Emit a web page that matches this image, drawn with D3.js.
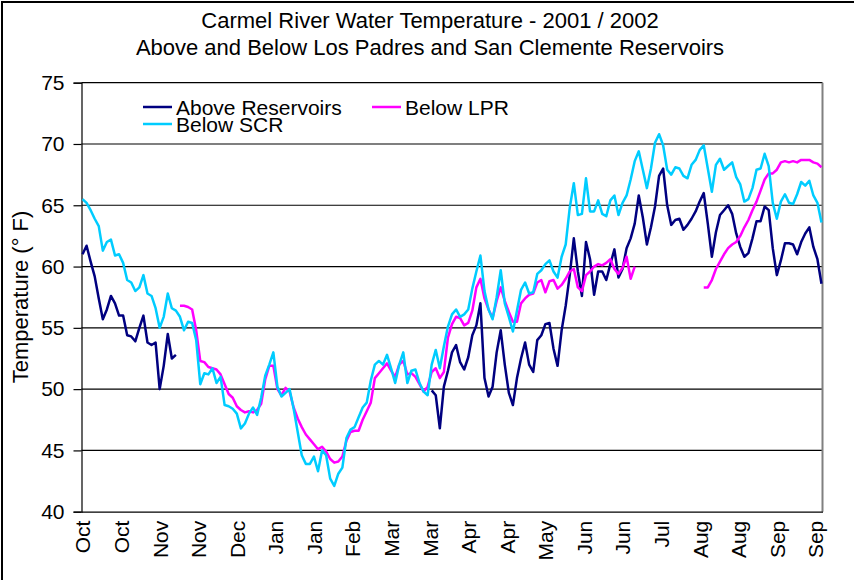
<!DOCTYPE html>
<html>
<head>
<meta charset="utf-8">
<script src="https://d3js.org/d3.v7.min.js"></script>
<style>
  body { margin: 0; background: #fff; }
  text { font-family: "Liberation Sans", Arial, sans-serif; fill: #000; }
</style>
</head>
<body>
<div id="chart"></div>
<script>
(function(){
    // data: daily record Oct 1 2001 - Sep 30 2002, values read every 2nd day
    var START_DATE = new Date(2001, 9, 1),
        END_DATE   = new Date(2002, 9, 1),
        STEP       = 2;   // days between stored readings

    var seriesNames = ['Above Reservoirs', 'Below LPR', 'Below SCR'];

    // x axis labels, one every TICK_EVERY days
    var tickLabels = ['Oct','Oct','Nov','Nov','Dec','Jan','Jan','Feb','Mar','Mar',
                      'Apr','Apr','May','Jun','Jun','Jul','Aug','Aug','Sep','Sep'],
        TICK_EVERY = 19;

    var yTicks = [40, 45, 50, 55, 60, 65, 70, 75];

    var aboveReservoirs = [
        61.0, 61.7, 60.4, 59.2, 57.4, 55.7, 56.5, 57.6, 57.0, 56.0,
        56.0, 54.4, 54.3, 53.9, 55.0, 56.0, 53.8, 53.6, 53.8, 50.0,
        51.9, 54.5, 52.5, 52.8,
        null, null, null, null, null, null, null, null, null, null,
        null, null, null, null, null, null, null, null, null, null,
        null, null, null, null, null, null, null, null, null, null,
        null, null, null, null, null, null, null, null, null, null,
        null, null, null, null, null, null, null, null, null, null,
        null, null, null, null, null, null, null, null, null, null,
        null, null,
        49.9, 49.5, 46.8, 50.2,
        51.5, 53.0, 53.6, 52.2, 51.6, 52.6, 54.4, 55.2, 57.0, 50.9,
        49.4, 50.2, 53.0, 54.8, 52.0, 49.7, 48.7, 50.9, 52.5, 53.8,
        52.0, 51.4, 54.0, 54.4, 55.3, 55.4, 53.3, 51.9, 54.8, 56.8,
        59.3, 62.3, 59.6, 57.6, 62.0, 60.6, 57.7, 59.6, 59.6, 58.9,
        60.2, 61.4, 59.1, 59.8, 61.5, 62.3, 63.5, 65.8, 64.0, 61.8,
        63.2, 64.9, 67.4, 68.0, 65.0, 63.4, 63.8, 63.9, 63.0, 63.4,
        63.9, 64.5, 65.3, 66.0, 63.5, 60.8, 62.8, 64.2, 64.6, 65.0,
        64.3, 62.7, 61.6, 60.8, 61.1, 62.3, 63.7, 63.7, 64.9, 64.6,
        61.5, 59.3, 60.5, 61.9, 61.9, 61.8, 61.0, 62.0, 62.7, 63.2,
        61.6, 60.6, 58.6
    ];

    var belowLPR = [
        null, null, null, null, null, null, null, null, null, null,
        null, null, null, null, null, null, null, null, null, null,
        null, null, null, null,
        56.8, 56.8, 56.7, 56.5, 54.8, 52.3,
        52.2, 51.8, 51.7, 51.6, 51.2, 50.4, 49.6, 49.3, 48.6, 48.3,
        48.1, 48.2, 48.1, 48.3, 48.8, 50.8, 51.9, 51.9, 50.0, 49.5,
        50.1, 49.8, 48.5, 47.6, 46.9, 46.3, 45.9, 45.5, 45.1, 45.3,
        44.9, 44.3, 44.0, 44.1, 44.5, 45.8, 46.5, 46.6, 46.6, 47.5,
        48.2, 48.9, 50.9, 51.3, 51.7, 52.1, 51.5, 51.0, 52.0, 52.3,
        51.2, 51.3, 51.0, 50.4, 49.8, 50.2, 51.4, 51.7, 50.9, 51.4,
        54.2, 55.3, 55.9, 55.8, 55.2, 55.4, 56.4, 58.3, 59.0, 57.4,
        56.5, 55.8, 57.2, 58.3, 57.2, 56.3, 55.5, 55.5, 57.0, 57.4,
        57.7, 57.8, 58.7, 58.9, 57.9, 58.8, 58.9, 58.2, 58.5, 59.0,
        59.6, 59.8, 58.3, 58.0, 59.3, 59.6, 60.0, 60.2, 60.1, 60.3,
        60.6, 59.8, 59.4, 59.9, 60.8, 59.0, 60.0,
        null, null, null, null, null, null, null, null, null, null,
        null, null, null, null, null, null,
        58.3, 58.3, 58.9, 59.8, 60.4, 61.0, 61.5,
        61.8, 62.0, 62.5, 63.2, 63.8, 64.6, 65.3, 66.2, 67.1, 67.6,
        67.6, 67.9, 68.5, 68.6, 68.5, 68.6, 68.5, 68.7, 68.7, 68.7,
        68.5, 68.4, 68.1
    ];

    var belowSCR = [
        65.5, 65.2, 64.6, 63.9, 63.3, 61.3, 62.0, 62.2, 60.9, 61.0,
        60.3, 58.9, 58.7, 58.0, 58.3, 59.3, 57.8, 57.6, 56.6, 55.0,
        55.9, 57.8, 56.6, 56.4, 55.9, 54.8, 55.5, 55.4, 54.0, 50.4,
        51.3, 51.2, 51.7, 50.5, 51.0, 48.7, 48.6, 48.4, 48.0, 46.8,
        47.2, 48.0, 48.5, 47.9, 49.3, 51.1, 52.0, 53.0, 50.2, 49.4,
        49.7, 50.0, 48.4, 46.5, 44.6, 43.9, 43.9, 44.5, 43.3, 45.0,
        44.6, 42.7, 42.1, 43.1, 43.6, 46.0, 46.7, 46.9, 47.7, 48.5,
        48.9, 50.7, 52.0, 52.3, 52.0, 52.8, 51.7, 50.5, 52.0, 53.0,
        50.5, 51.5, 51.6, 50.5, 49.8, 49.5, 52.0, 53.2, 51.7, 53.5,
        55.1, 56.1, 56.5, 55.9, 56.1, 56.5, 58.2, 59.6, 60.9, 58.0,
        56.5, 55.7, 57.5, 59.7, 57.0, 55.9, 54.7, 56.4, 58.1, 58.7,
        57.8, 57.9, 59.4, 59.7, 60.2, 60.5, 59.6, 59.1, 60.8, 61.8,
        64.8, 66.8, 64.2, 64.3, 67.2, 64.5, 64.5, 65.4, 64.3, 64.1,
        65.4, 65.8, 64.2, 65.2, 65.8, 67.1, 68.6, 69.4, 67.9, 66.4,
        68.0, 70.1, 70.8, 69.9, 67.9, 67.5, 68.1, 68.0, 67.4, 67.2,
        68.3, 68.7, 69.5, 69.9, 68.0, 66.1, 68.3, 68.8, 67.9, 68.2,
        68.5, 67.3, 66.7, 65.3, 65.5, 66.4, 67.9, 68.0, 69.2, 68.2,
        65.2, 63.9, 65.3, 65.9, 65.2, 65.1, 65.9, 66.9, 66.6, 67.0,
        65.8, 65.2, 63.6
    ];

    var seriesData   = [aboveReservoirs, belowLPR, belowSCR],
        seriesColors = ['#000080', '#ff00ff', '#00ccff'];

    // layout
    var WIDTH         = 854,
        HEIGHT        = 580,
        PLOT_LEFT     = 81.5,
        PLOT_RIGHT    = 822.5,
        PLOT_TOP      = 82.7,
        PLOT_BOTTOM   = 511.7,
        FONT_SIZE     = 21,
        LINE_WIDTH    = 2.5;

    var days = d3.timeDay.range(START_DATE, END_DATE);   // categories

    var svg = d3.select('#chart').append('svg')
        .attr('width', WIDTH)
        .attr('height', HEIGHT);

    // outer chart border
    svg.append('rect')
        .attr('x', 2).attr('y', 2)
        .attr('width', WIDTH + 10).attr('height', HEIGHT + 10)
        .attr('fill', 'none')
        .attr('stroke', '#000')
        .attr('stroke-width', 2);

    var x = d3.scalePoint()
        .domain(d3.range(days.length))
        .range([PLOT_LEFT, PLOT_RIGHT])
        .padding(0.5);

    var y = d3.scaleLinear()
        .domain([40, 75])
        .range([PLOT_BOTTOM, PLOT_TOP]);

    // gridlines
    svg.append('g')
        .selectAll('line')
        .data(yTicks.filter(function(t){ return t > 40; }))
        .enter().append('line')
        .attr('x1', PLOT_LEFT).attr('x2', PLOT_RIGHT)
        .attr('y1', function(d){ return y(d); })
        .attr('y2', function(d){ return y(d); })
        .attr('stroke', '#000')
        .attr('stroke-width', 1.2);

    // right border of plot area
    svg.append('line')
        .attr('x1', PLOT_RIGHT).attr('x2', PLOT_RIGHT)
        .attr('y1', PLOT_TOP).attr('y2', PLOT_BOTTOM)
        .attr('stroke', '#808080')
        .attr('stroke-width', 2);

    // y axis
    var yAxis = d3.axisLeft(y)
        .tickValues(yTicks)
        .tickSize(8)
        .tickPadding(9)
        .tickFormat(d3.format('d'));

    var yg = svg.append('g')
        .attr('transform', 'translate(' + PLOT_LEFT + ',0)')
        .call(yAxis);
    yg.select('.domain').attr('stroke', '#000').attr('stroke-width', 1.2);
    yg.selectAll('.tick line').attr('stroke', '#000').attr('stroke-width', 1.2);
    yg.selectAll('.tick text')
        .style('font-size', FONT_SIZE + 'px')
        .style('font-family', '"Liberation Sans", Arial, sans-serif')
        .attr('fill', '#000');

    // x axis
    var xAxis = d3.axisBottom(x)
        .tickValues(d3.range(0, days.length, TICK_EVERY))
        .tickSize(0)
        .tickFormat(function(d, i){ return tickLabels[i]; });

    var xg = svg.append('g')
        .attr('transform', 'translate(0,' + PLOT_BOTTOM + ')')
        .call(xAxis);
    xg.select('.domain').attr('stroke', '#000').attr('stroke-width', 1.2);
    xg.selectAll('.tick text')
        .style('font-size', FONT_SIZE + 'px')
        .style('font-family', '"Liberation Sans", Arial, sans-serif')
        .attr('fill', '#000')
        .attr('text-anchor', 'end')
        .attr('transform', 'rotate(-90)')
        .attr('x', -9)
        .attr('y', 0)
        .attr('dy', '0.35em');

    // series lines
    var line = d3.line()
        .defined(function(v){ return v !== null; })
        .x(function(v, i){ return x(i * STEP); })
        .y(function(v){ return y(v); });

    svg.append('g')
        .selectAll('path')
        .data(seriesData)
        .enter().append('path')
        .attr('d', function(d){ return line(d); })
        .attr('fill', 'none')
        .attr('stroke', function(d, i){ return seriesColors[i]; })
        .attr('stroke-width', LINE_WIDTH)
        .attr('stroke-linejoin', 'round');

    // title
    svg.append('text')
        .attr('x', 430).attr('y', 28)
        .attr('text-anchor', 'middle')
        .style('font-size', '22px')
        .text('Carmel River Water Temperature - 2001 / 2002');
    svg.append('text')
        .attr('x', 430).attr('y', 55)
        .attr('text-anchor', 'middle')
        .style('font-size', '22px')
        .text('Above and Below Los Padres and San Clemente Reservoirs');

    // y axis title
    svg.append('text')
        .attr('transform', 'translate(28,297) rotate(-90)')
        .attr('text-anchor', 'middle')
        .style('font-size', '22px')
        .text('Temperature (\u00b0 F)');

    // legend
    var legendPos = [[143, 107], [372, 107], [143, 124]];
    var legend = svg.append('g')
        .selectAll('g')
        .data(seriesNames)
        .enter().append('g')
        .attr('transform', function(d, i){
            return 'translate(' + legendPos[i][0] + ',' + legendPos[i][1] + ')';
        });
    legend.append('line')
        .attr('x1', 0).attr('x2', 29)
        .attr('stroke', function(d, i){ return seriesColors[i]; })
        .attr('stroke-width', LINE_WIDTH);
    legend.append('text')
        .attr('x', 33).attr('y', 8)
        .style('font-size', FONT_SIZE + 'px')
        .text(function(d){ return d; });
})();
</script>
</body>
</html>
